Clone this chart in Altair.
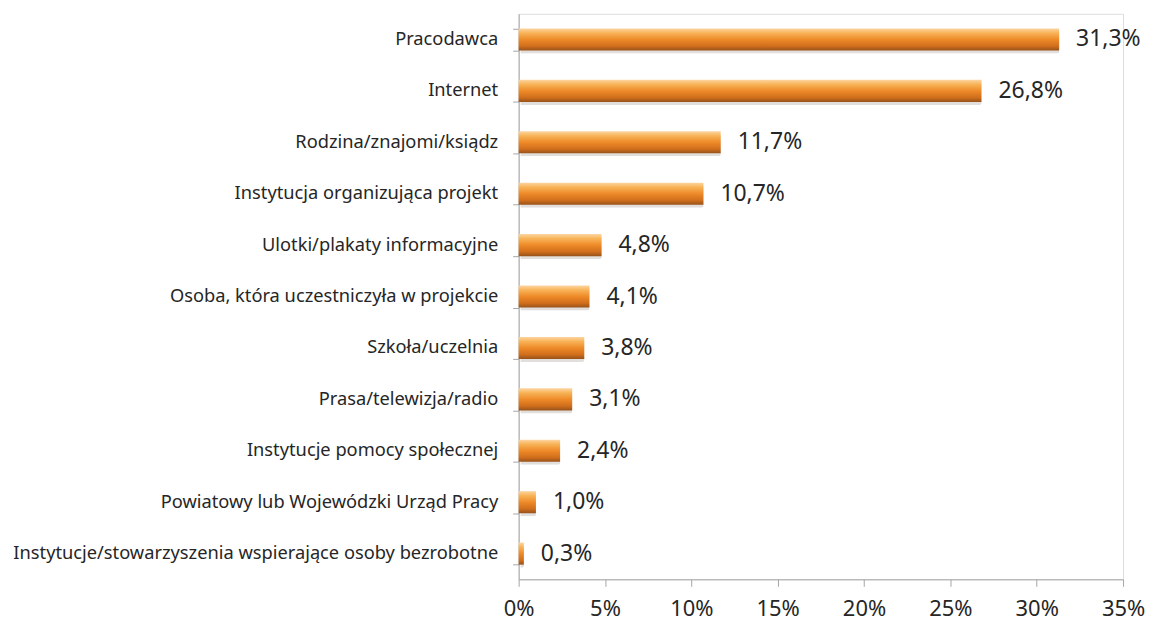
import altair as alt
import pandas as pd

categories = [
    "Pracodawca",
    "Internet",
    "Rodzina/znajomi/ksiądz",
    "Instytucja organizująca projekt",
    "Ulotki/plakaty informacyjne",
    "Osoba, która uczestniczyła w projekcie",
    "Szkoła/uczelnia",
    "Prasa/telewizja/radio",
    "Instytucje pomocy społecznej",
    "Powiatowy lub Wojewódzki Urząd Pracy",
    "Instytucje/stowarzyszenia wspierające osoby bezrobotne",
]
values = [31.3, 26.8, 11.7, 10.7, 4.8, 4.1, 3.8, 3.1, 2.4, 1.0, 0.3]
x_ticks = [0, 5, 10, 15, 20, 25, 30, 35]

df = pd.DataFrame({"cat": categories, "v": values})

FONT = "Noto Sans"
AXIS_GRAY = "#a6a6a6"
TEXT = "#262626"

xscale = alt.Scale(domain=[0, 35], nice=False)
yscale = alt.Scale(paddingInner=0.57, paddingOuter=0.285)

x_enc = alt.X(
    "v:Q",
    scale=xscale,
    axis=alt.Axis(
        values=x_ticks,
        labelExpr="datum.value + '%'",
        title=None,
        grid=False,
        domainColor=AXIS_GRAY,
        tickColor=AXIS_GRAY,
        tickSize=7,
        labelFontSize=22,
        labelColor=TEXT,
        labelFont=FONT,
        labelPadding=12,
        labelFlush=False,
        labelOverlap=False,
    ),
)
y_enc = alt.Y(
    "cat:N",
    sort=categories,
    scale=yscale,
    axis=alt.Axis(
        title=None,
        domainColor=AXIS_GRAY,
        tickColor=AXIS_GRAY,
        tickSize=6,
        tickBand="extent",
        labelFontSize=18.3,
        labelColor=TEXT,
        labelFont=FONT,
        labelPadding=15,
        labelLimit=700,
    ),
)

base = alt.Chart(df)

shadow = base.mark_bar(color="#7a6a5a", opacity=0.22, xOffset=2, yOffset=3, cornerRadius=2).encode(
    x=alt.X("v:Q", scale=xscale),
    y=alt.Y("cat:N", sort=categories, scale=yscale),
)

grad = alt.Gradient(
    gradient="linear",
    x1=0, x2=0, y1=0, y2=1,
    stops=[
        alt.GradientStop(offset=0, color="#fcd5a2"),
        alt.GradientStop(offset=0.2, color="#f8b458"),
        alt.GradientStop(offset=0.5, color="#ee8a28"),
        alt.GradientStop(offset=0.8, color="#d06e1c"),
        alt.GradientStop(offset=1, color="#97521a"),
    ],
)

bars = base.mark_bar(color=grad).encode(x=x_enc, y=y_enc)

labels = base.mark_text(
    align="left", baseline="middle", dx=17, fontSize=23, font=FONT, color=TEXT
).transform_calculate(
    lab="replace(format(datum.v, '.1f'), '.', ',') + '%'"
).encode(
    x=alt.X("v:Q"),
    y=alt.Y("cat:N", sort=categories),
    text="lab:N",
)

chart = alt.layer(shadow, bars, labels).properties(
    width=606,
    height=567,
    autosize=alt.AutoSizeParams(type="none"),
    padding={"left": 512, "top": 5, "right": 22, "bottom": 44},
).configure_view(stroke=None).configure(background="white")

chart.save("out.html", embed_options={"renderer": "svg", "actions": False})
